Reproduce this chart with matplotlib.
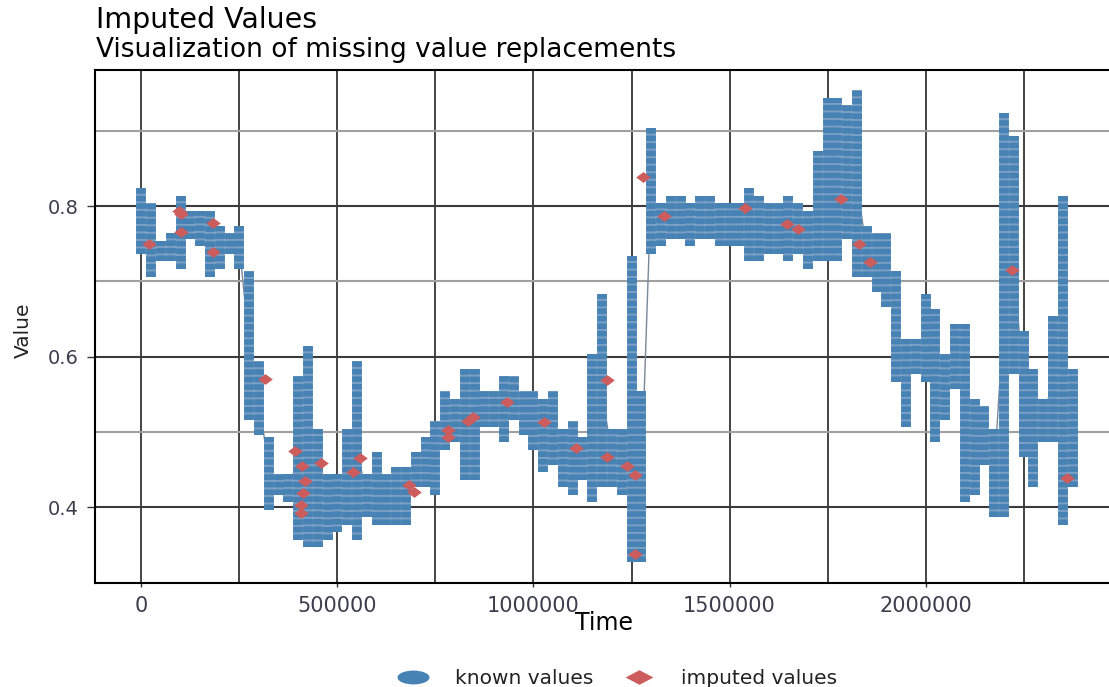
import numpy as np
import matplotlib.pyplot as plt
from matplotlib.lines import Line2D
from matplotlib.path import Path
from matplotlib.transforms import Affine2D

# known values, one low/high pair per 25000 time units
time_step = 25000
band_lo = [0.74, 0.71, 0.73, 0.73, 0.72, 0.76, 0.75, 0.71, 0.72, 0.74,
           0.72, 0.52, 0.50, 0.40, 0.42, 0.41, 0.36, 0.35, 0.35, 0.36,
           0.37, 0.38, 0.36, 0.39, 0.38, 0.38, 0.38, 0.38, 0.43, 0.43,
           0.42, 0.48, 0.49, 0.44, 0.44, 0.51, 0.51, 0.49, 0.52, 0.50,
           0.48, 0.45, 0.46, 0.43, 0.42, 0.44, 0.41, 0.43, 0.43, 0.42,
           0.33, 0.33, 0.74, 0.75, 0.76, 0.76, 0.75, 0.76, 0.76, 0.75,
           0.75, 0.75, 0.73, 0.73, 0.74, 0.74, 0.73, 0.74, 0.72, 0.73,
           0.73, 0.73, 0.76, 0.71, 0.71, 0.69, 0.67, 0.57, 0.51, 0.58,
           0.57, 0.49, 0.52, 0.56, 0.41, 0.42, 0.46, 0.39, 0.39, 0.58,
           0.47, 0.43, 0.49, 0.49, 0.38, 0.43]
band_hi = [0.82, 0.80, 0.75, 0.76, 0.81, 0.79, 0.79, 0.79, 0.77, 0.76,
           0.77, 0.71, 0.59, 0.49, 0.44, 0.44, 0.57, 0.61, 0.50, 0.44,
           0.44, 0.50, 0.59, 0.44, 0.47, 0.44, 0.45, 0.45, 0.47, 0.49,
           0.51, 0.55, 0.54, 0.58, 0.58, 0.55, 0.55, 0.57, 0.57, 0.55,
           0.55, 0.54, 0.55, 0.50, 0.51, 0.49, 0.60, 0.68, 0.50, 0.50,
           0.73, 0.55, 0.90, 0.80, 0.81, 0.81, 0.80, 0.81, 0.81, 0.80,
           0.80, 0.80, 0.82, 0.81, 0.80, 0.80, 0.81, 0.80, 0.79, 0.87,
           0.94, 0.94, 0.93, 0.95, 0.77, 0.76, 0.76, 0.71, 0.62, 0.62,
           0.68, 0.66, 0.60, 0.64, 0.64, 0.54, 0.53, 0.50, 0.92, 0.89,
           0.63, 0.58, 0.54, 0.65, 0.81, 0.58]

# imputed replacements
imp_time = [20000, 95000, 102000, 100000, 181600, 182000, 315000, 391600,
            408600, 417000, 412000, 408000, 408000, 457900, 540000, 557400,
            683000, 695000, 782700, 782700, 832000, 845000, 931600, 1027600,
            1108400, 1186700, 1186700, 1237800, 1259000, 1259000, 1280100,
            1333700, 1539500, 1646000, 1675500, 1784400, 1830400, 1858400,
            2219900, 2361700]
imp_value = [0.750, 0.793, 0.789, 0.766, 0.778, 0.739, 0.570, 0.475,
             0.454, 0.434, 0.418, 0.403, 0.392, 0.458, 0.447, 0.465,
             0.429, 0.420, 0.502, 0.493, 0.514, 0.520, 0.539, 0.513,
             0.479, 0.466, 0.569, 0.454, 0.442, 0.338, 0.838,
             0.787, 0.797, 0.776, 0.770, 0.809, 0.750, 0.726,
             0.715, 0.438]

x_ticks = [0, 500000, 1000000, 1500000, 2000000]
y_ticks = [0.4, 0.6, 0.8]

plt.rcParams["font.family"] = "DejaVu Sans"
plt.rcParams["lines.scale_dashes"] = False

lo = np.array(band_lo)
hi = np.array(band_hi)
t = np.arange(len(lo)) * time_step

fig = plt.figure(figsize=(11.09, 6.87), dpi=100)
ax = fig.add_axes([0.0855, 0.1509, 0.9258, 0.7479])
ax.set_xlim(-119000, 2500000)
ax.set_ylim(0.2986, 0.9814)

# pixel scale of the panel, used for dot rows and column widths
pos = ax.get_position()
px_y = pos.height * fig.get_figheight() * fig.dpi / (0.9814 - 0.2986)
px_x = pos.width * fig.get_figwidth() * fig.dpi / (2500000 + 119000)
row_pt = 0.01 * px_y * 72 / fig.dpi
col_pt = time_step * px_x * 72 / fig.dpi
half = 0.0037

# series line through the middle of each step
ax.plot(t, (lo + hi) / 2, color="lightslategray", lw=1.0, zorder=2)

# known values as columns of dots, one row per 0.01
ax.vlines(t, lo - half, hi + half, colors="#7b9fc3", lw=col_pt, zorder=3)
ax.vlines(t, lo - half, hi + half, colors="steelblue", lw=col_pt,
          linestyles=[(0, (0.74 * row_pt, 0.26 * row_pt))], zorder=4)

# imputed values
wide_diamond = Path([(-1.35, 0), (0, 1), (1.35, 0), (0, -1), (-1.35, 0)],
                    [Path.MOVETO, Path.LINETO, Path.LINETO, Path.LINETO, Path.CLOSEPOLY])
ax.plot(imp_time, imp_value, ls="none", marker=wide_diamond, ms=10.5,
        color="indianred", mec="none", zorder=5)

# grid and axes
ax.set_xticks(x_ticks)
ax.set_xticks([250000, 750000, 1250000, 1750000, 2250000], minor=True)
ax.set_xticklabels([str(v) for v in x_ticks])
ax.set_yticks(y_ticks)
ax.set_yticks([0.5, 0.7, 0.9], minor=True)
ax.set_yticklabels([f"{v:.1f}" for v in y_ticks])
ax.xaxis.grid(True, which="both", color="#111111", lw=1.1, zorder=0)
ax.yaxis.grid(True, which="major", color="#3a3a3a", lw=1.5, zorder=0)
ax.yaxis.grid(True, which="minor", color="#a0a0a0", lw=1.5, zorder=0)
ax.set_axisbelow(True)
ax.tick_params(axis="x", which="major", length=3, width=1, color="#333333",
               pad=6, labelsize=15, labelcolor="#3d3d4d")
ax.tick_params(axis="y", which="major", length=6, width=1, color="#333333",
               pad=6, labelsize=14, labelcolor="#3d3d4d")
ax.tick_params(which="minor", length=0)
for side in ["left", "bottom", "top"]:
    ax.spines[side].set_linewidth(1.5)
    ax.spines[side].set_color("black")
ax.spines["right"].set_visible(False)

fig.text(96 / 1109, 1 - 28 / 687, "Imputed Values", fontsize=20.5,
         va="baseline", ha="left", color="black")
fig.text(96 / 1109, 1 - 57 / 687, "Visualization of missing value replacements",
         fontsize=19, va="baseline", ha="left", color="black")
fig.text(604 / 1109, 1 - 630 / 687, "Time", fontsize=17, va="baseline",
         ha="center", color="black")
fig.text(23 / 1109, 1 - 330 / 687, "Value", fontsize=14.5, rotation=90,
         va="center", ha="center", color="#222222")

# legend
ellipse = Path.unit_circle().transformed(Affine2D().scale(2.3, 1))
legend_diamond = Path([(-1.9, 0), (0, 1), (1.9, 0), (0, -1), (-1.9, 0)],
                      [Path.MOVETO, Path.LINETO, Path.LINETO, Path.LINETO, Path.CLOSEPOLY])
handles = [Line2D([], [], ls="none", marker=ellipse, ms=23, color="steelblue", mec="none"),
           Line2D([], [], ls="none", marker=legend_diamond, ms=20, color="indianred", mec="none")]
fig.legend(handles, ["known values", "imputed values"], loc="center",
           bbox_to_anchor=(0.553, 0.013), ncol=2, frameon=False, fontsize=14.5,
           handlelength=2.4, handletextpad=0.9, columnspacing=1.05,
           labelcolor="#222222")

fig.savefig("out.png", dpi=100)
